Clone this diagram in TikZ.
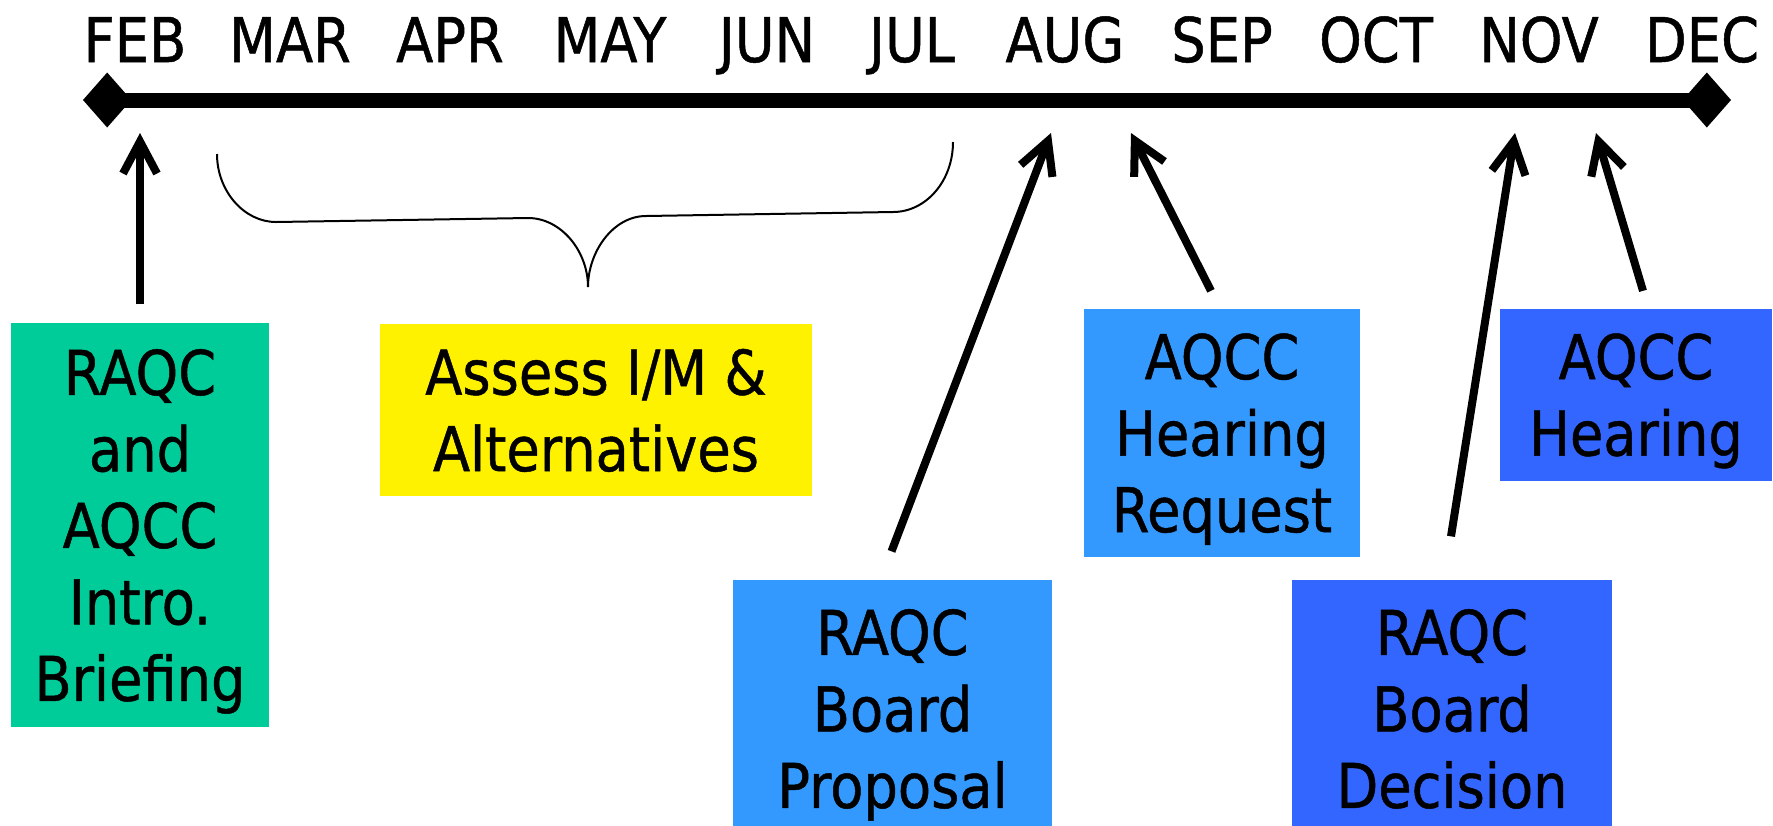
\documentclass[tikz,border=0pt]{standalone}
\usepackage{fontspec}
\setmainfont{DejaVu Sans}[FakeStretch=0.88, FakeBold=0.8]
\usetikzlibrary{arrows.meta, positioning}
\definecolor{briefgreen}{RGB}{0,204,153}
\definecolor{propblue}{RGB}{51,153,255}
\definecolor{hearblue}{RGB}{51,102,255}

\tikzset{
  month/.style={inner sep=0pt, anchor=base, font=\fontsize{18.5}{22.95}\selectfont},
  event/.style={rectangle, align=center, inner sep=0pt, text depth=0pt, font=\fontsize{18.5}{22.95}\selectfont},
  evarrow/.style={line width=2.4pt, -{Straight Barb[length=9.6pt,width=10.2pt]}}
}

\begin{document}
\begin{tikzpicture}[x=0.3pt, y=-0.3pt]
  \useasboundingbox (0,0) rectangle (1773,825);

  \foreach \m/\x in {FEB/135, MAR/290, APR/450, MAY/610, JUN/767, JUL/912, AUG/1065, SEP/1222, OCT/1376, NOV/1539, DEC/1702}
    \node[month] (\m) at (\x,62) {\m};

  \coordinate (tl-start) at (83,100);
  \coordinate (tl-end) at (1731,100);
  \draw[line width=4.5pt, {Diamond[length=14.5pt,width=16.5pt]}-{Diamond[length=14.5pt,width=16.5pt]}] (tl-start) -- (tl-end);

  % brace over MAR..JUL
  \draw[line width=0.6pt] (217,154) .. controls (217,191) and (244,222) .. (276,222) -- (528,218)
    .. controls (561,218) and (588,251) .. (588,287) .. controls (588,252) and (613,216) .. (646,216)
    -- (893,212) .. controls (926,212) and (953,181) .. (953,142);

  \node[event, fill=briefgreen, minimum width=77.4pt, minimum height=121.2pt] (briefing) at (140,525) {RAQC\\and\\AQCC\\Intro.\\Briefing};

  \node[event, fill=yellow, minimum width=129.6pt, minimum height=51.6pt] (assess) at (596,410) {Assess I/M \&\\Alternatives};

  \node[event, fill=propblue, minimum width=95.7pt, minimum height=77.1pt] (proposal) at (892.5,708.5) {RAQC\\Board\\Proposal};

  \node[event, fill=propblue, minimum width=82.8pt, minimum height=74.55pt] (request) at (1222,432.75) {AQCC\\Hearing\\Request};

  \node[event, fill=hearblue, minimum width=96pt, minimum height=77.1pt] (decision) at (1452,708.5) {RAQC\\Board\\Decision};

  \node[event, fill=hearblue, minimum width=81.6pt, minimum height=51.6pt] (hearing) at (1636,394.5) {AQCC\\Hearing};

  \coordinate (p-feb) at (140,133);
  \coordinate (p-aug) at (1051,133);
  \coordinate (p-sep) at (1131,133);
  \coordinate (p-nov) at (1515,133);
  \coordinate (p-dec) at (1596,133);

  \draw[evarrow] ([shift={(0,-18)}]briefing.north) -- (p-feb);
  \draw[evarrow] ([shift={(-1,-28)}]proposal.north) -- (p-aug);
  \draw[evarrow] ([shift={(-11,-17)}]request.north) -- (p-sep);
  \draw[evarrow] ([shift={(-1,-43)}]decision.north) -- (p-nov);
  \draw[evarrow] ([shift={(7,-17)}]hearing.north) -- (p-dec);
\end{tikzpicture}
\end{document}
